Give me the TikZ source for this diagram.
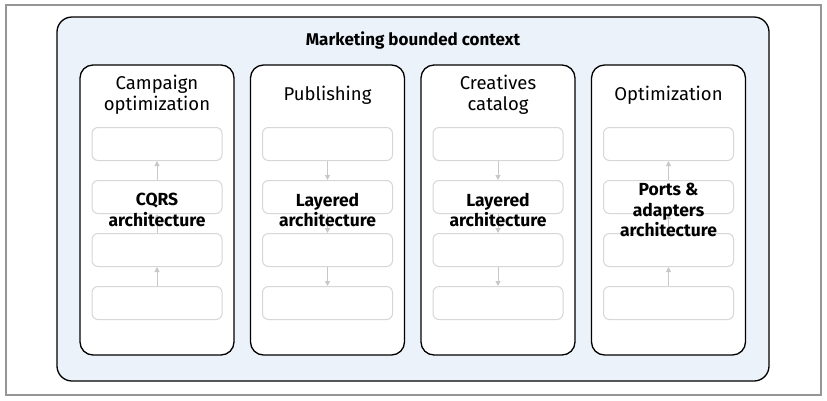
\documentclass[tikz,border=0pt]{standalone}
\usepackage{fontspec}
\setmainfont{Fira Sans}
\usetikzlibrary{arrows.meta,positioning}
\definecolor{FrameG} {RGB}{150,150,150}
\definecolor{CtxBlue}{RGB}{235,242,249}
\definecolor{LayerG} {RGB}{215,215,215}
\definecolor{ArrowG} {RGB}{200,200,200}

\begin{document}
\begin{tikzpicture}[x=1pt,y=-1pt,
    ctxbox/.style={draw,line width=1.3pt,rounded corners=15pt,fill=CtxBlue,
      minimum width=712pt,minimum height=364pt},
    colbox/.style={draw,line width=1.3pt,rounded corners=13pt,fill=white,
      minimum width=154pt,minimum height=290pt},
    layerbox/.style={draw=LayerG,line width=1pt,rounded corners=6pt,
      minimum width=130pt,minimum height=33pt},
    coltitle/.style={align=center,font=\fontsize{18.5}{21}\selectfont},
    archlabel/.style={align=center,font=\bfseries\fontsize{17.5}{20.5}\selectfont},
    flowup/.style={ArrowG,line width=1pt,{Triangle[length=5pt,width=5pt]}-},
    flowdown/.style={ArrowG,line width=1pt,-{Triangle[length=5pt,width=5pt]}}]
  \useasboundingbox (0,0) rectangle (827,400);
  \draw[FrameG,line width=1.2pt] (6,5) rectangle (821,395);
  \node[ctxbox] (ctx) at (413,199) {};
  \node[font=\bfseries\fontsize{17}{20}\selectfont] (ctx-t) at (413,40)
    {Marketing bounded context};
  \foreach \i/\ttl/\arch/\dir in {0/{Campaign\\optimization}/{CQRS\\architecture}/flowup,
                                  1/{Publishing}/{Layered\\architecture}/flowdown,
                                  2/{Creatives\\catalog}/{Layered\\architecture}/flowdown,
                                  3/{Optimization}/{Ports \&\\adapters\\architecture}/flowup}{
    \pgfmathsetmacro{\cx}{157+170.5*\i}
    \node[colbox] (col\i) at (\cx,210) {};
    \node[coltitle] (col\i-t) at (\cx,95) {\ttl};
    \foreach \k/\y in {1/144,2/197,3/250,4/303}
      \node[layerbox] (col\i-b\k) at (\cx,\y) {};
    \foreach \k [evaluate=\k as \kn using int(\k+1)] in {1,2,3}
      \draw[\dir] (col\i-b\k.south) -- (col\i-b\kn.north);
    \node[archlabel] (col\i-a) at (\cx,210) {\arch};
  }
\end{tikzpicture}
\end{document}
